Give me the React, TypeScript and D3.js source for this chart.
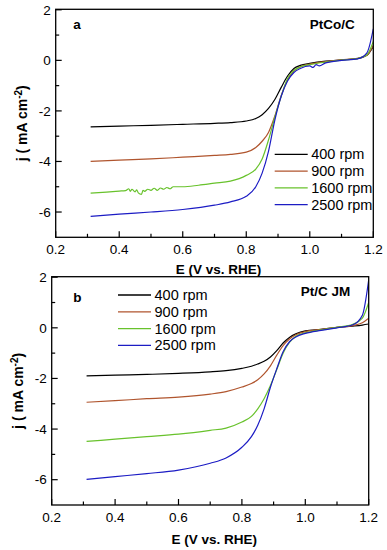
import React, { useRef, useEffect } from 'react';
import * as d3 from 'd3';

// shared potential grid (V vs. RHE)
const eGrid = [0.31, 0.4, 0.5, 0.6, 0.7, 0.75, 0.8, 0.83, 0.85, 0.87, 0.89, 0.91, 0.93, 0.95, 0.97, 1.0, 1.05, 1.1, 1.15, 1.18, 1.2];

// panel a: PtCo/C
const a400 = [-2.63, -2.6, -2.57, -2.53, -2.49, -2.46, -2.4, -2.3, -2.15, -1.9, -1.55, -1.07, -0.62, -0.32, -0.2, -0.12, -0.03, 0.02, 0.07, 0.2, 0.55];
const a900 = [-4.0, -3.95, -3.9, -3.83, -3.76, -3.72, -3.63, -3.45, -3.2, -2.85, -2.2, -1.4, -0.78, -0.42, -0.25, -0.15, -0.05, 0.02, 0.08, 0.2, 0.6];
const a1600E = [0.31, 0.36, 0.4, 0.42, 0.43, 0.435, 0.44, 0.45, 0.455, 0.46, 0.47, 0.475, 0.48, 0.49, 0.5, 0.51, 0.52, 0.53, 0.54, 0.55, 0.56, 0.57, 0.6, 0.65, 0.7, 0.75, 0.8, 0.83, 0.85, 0.87, 0.89, 0.91, 0.93, 0.95, 0.97, 1.0, 1.05, 1.1, 1.15, 1.18, 1.2];
const a1600 = [-5.25, -5.21, -5.17, -5.15, -5.08, -5.18, -5.1, -5.2, -5.12, -5.24, -5.3, -5.14, -5.18, -5.1, -5.14, -5.06, -5.14, -5.05, -5.1, -5.03, -5.08, -5.0, -5.0, -4.94, -4.86, -4.78, -4.55, -4.3, -3.9, -3.15, -2.25, -1.42, -0.72, -0.4, -0.26, -0.17, -0.07, 0.01, 0.07, 0.22, 0.75];
const a2500E = [0.31, 0.4, 0.5, 0.6, 0.7, 0.75, 0.8, 0.83, 0.85, 0.87, 0.89, 0.91, 0.93, 0.95, 0.97, 1.0, 1.01, 1.02, 1.03, 1.05, 1.1, 1.15, 1.18, 1.2];
const a2500 = [-6.17, -6.08, -6.0, -5.9, -5.73, -5.6, -5.38, -5.0, -4.46, -3.6, -2.36, -1.42, -0.82, -0.48, -0.32, -0.22, -0.28, -0.17, -0.22, -0.1, 0.0, 0.06, 0.3, 1.25];

// panel b: Pt/C JM
const b400 = [-1.9, -1.87, -1.84, -1.8, -1.74, -1.69, -1.6, -1.52, -1.43, -1.32, -1.15, -0.9, -0.6, -0.38, -0.24, -0.12, -0.06, 0.02, 0.07, 0.11, 0.15];
const b900 = [-2.94, -2.88, -2.8, -2.74, -2.62, -2.52, -2.34, -2.2, -2.05, -1.82, -1.5, -1.08, -0.7, -0.44, -0.27, -0.15, -0.06, 0.02, 0.09, 0.2, 0.38];
const b1600 = [-4.49, -4.4, -4.3, -4.2, -4.05, -3.96, -3.72, -3.5, -3.2, -2.8, -2.28, -1.65, -1.0, -0.58, -0.33, -0.2, -0.08, 0.02, 0.14, 0.38, 1.0];
const b2500 = [-5.99, -5.88, -5.76, -5.62, -5.35, -5.14, -4.72, -4.3, -3.85, -3.2, -2.35, -1.62, -0.95, -0.55, -0.36, -0.22, -0.1, 0.0, 0.12, 0.5, 1.9];

const rpmLabels = ['400 rpm', '900 rpm', '1600 rpm', '2500 rpm'];
const colors = ['#000000', '#b0552e', '#68c22c', '#1c1cc4'];
const xTicks = [0.2, 0.4, 0.6, 0.8, 1.0, 1.2];
const yTicks = [2, 0, -2, -4, -6];
const xMinor = [0.3, 0.5, 0.7, 0.9, 1.1];
const yMinor = [1, -1, -3, -5];

const FONT = 'Liberation Sans, Arial, sans-serif';

const panels = [
  {
    left: 55.7, right: 373.3, top: 9.3, bottom: 237.3,
    letter: 'a', name: 'PtCo/C', nameX: 354.7, nameY: 29.3, letterY: 29.3,
    series: [
      { e: eGrid, j: a400 },
      { e: eGrid, j: a900 },
      { e: a1600E, j: a1600 },
      { e: a2500E, j: a2500 },
    ],
    legendX: 274.7, legendY: 154.3, tickLabelY: 253.5, titleY: 273.5, yTitleX: 27,
  },
  {
    left: 51.7, right: 368.7, top: 276.7, bottom: 505,
    letter: 'b', name: 'Pt/C JM', nameX: 350.3, nameY: 296, letterY: 301.7,
    series: [
      { e: eGrid, j: b400 },
      { e: eGrid, j: b900 },
      { e: eGrid, j: b1600 },
      { e: eGrid, j: b2500 },
    ],
    legendX: 118, legendY: 295, tickLabelY: 522, titleY: 543.5, yTitleX: 23,
  },
];

const App = () => {
  const svgRef = useRef<SVGSVGElement>(null);

  useEffect(() => {
    const svg = d3.select(svgRef.current);
    svg.selectAll('*').remove();

    panels.forEach((p) => {
      const x = d3.scaleLinear().domain([0.2, 1.2]).range([p.left, p.right]);
      const y = d3.scaleLinear().domain([-7, 2]).range([p.bottom, p.top + 0.5]);
      const g = svg.append('g');

      const clipId = `clip-${p.letter}`;
      g.append('clipPath').attr('id', clipId)
        .append('rect')
        .attr('x', p.left).attr('y', p.top)
        .attr('width', p.right - p.left).attr('height', p.bottom - p.top);

      const line = d3.line<[number, number]>()
        .x((d) => x(d[0]))
        .y((d) => y(d[1]))
        .curve(d3.curveMonotoneX);

      // curves
      p.series.forEach((s, i) => {
        const pts = s.e.map((e, k) => [e, s.j[k]] as [number, number]);
        g.append('path')
          .attr('clip-path', `url(#${clipId})`)
          .attr('d', line(pts))
          .attr('fill', 'none')
          .attr('stroke', colors[i])
          .attr('stroke-width', 1.2);
      });

      // frame
      g.append('rect')
        .attr('x', p.left).attr('y', p.top)
        .attr('width', p.right - p.left).attr('height', p.bottom - p.top)
        .attr('fill', 'none').attr('stroke', '#000').attr('stroke-width', 1.3);

      // x ticks (inward)
      xTicks.forEach((t) => {
        g.append('line').attr('x1', x(t)).attr('x2', x(t))
          .attr('y1', p.bottom).attr('y2', p.bottom - 6)
          .attr('stroke', '#000').attr('stroke-width', 1.2);
        g.append('text').attr('x', x(t)).attr('y', p.tickLabelY)
          .attr('text-anchor', 'middle')
          .style('font-family', FONT).style('font-size', '13.5px')
          .text(d3.format('.1f')(t));
      });
      xMinor.forEach((t) => {
        g.append('line').attr('x1', x(t)).attr('x2', x(t))
          .attr('y1', p.bottom).attr('y2', p.bottom - 3.5)
          .attr('stroke', '#000').attr('stroke-width', 1.2);
      });

      // y ticks (inward)
      yTicks.forEach((t) => {
        g.append('line').attr('x1', p.left).attr('x2', p.left + 6)
          .attr('y1', y(t)).attr('y2', y(t))
          .attr('stroke', '#000').attr('stroke-width', 1.2);
        g.append('text').attr('x', p.left - 5).attr('y', y(t) + 4.8)
          .attr('text-anchor', 'end')
          .style('font-family', FONT).style('font-size', '13.5px')
          .text(t);
      });
      yMinor.forEach((t) => {
        g.append('line').attr('x1', p.left).attr('x2', p.left + 3.5)
          .attr('y1', y(t)).attr('y2', y(t))
          .attr('stroke', '#000').attr('stroke-width', 1.2);
      });

      // axis titles
      g.append('text')
        .attr('x', (p.left + p.right) / 2 + 4).attr('y', p.titleY)
        .attr('text-anchor', 'middle')
        .style('font-family', FONT).style('font-size', '13.5px').style('font-weight', 'bold')
        .text('E (V vs. RHE)');

      const yt = g.append('text')
        .attr('transform', `translate(${p.yTitleX},${(p.top + p.bottom) / 2}) rotate(-90)`)
        .attr('text-anchor', 'middle')
        .style('font-family', FONT).style('font-size', '14px').style('font-weight', 'bold');
      yt.append('tspan').text('j ( mA cm');
      yt.append('tspan').attr('dy', -5.5).style('font-size', '10px').text('-2');
      yt.append('tspan').attr('dy', 5.5).text(')');

      // panel letter and sample name
      g.append('text').attr('x', 73.3).attr('y', p.letterY)
        .style('font-family', FONT).style('font-size', '13.5px').style('font-weight', 'bold')
        .text(p.letter);
      g.append('text').attr('x', p.nameX).attr('y', p.nameY)
        .attr('text-anchor', 'end')
        .style('font-family', FONT).style('font-size', '13.5px').style('font-weight', 'bold')
        .text(p.name);

      // legend
      rpmLabels.forEach((lab, i) => {
        const ly = p.legendY + i * 16.8;
        g.append('line')
          .attr('x1', p.legendX).attr('x2', p.legendX + 33)
          .attr('y1', ly).attr('y2', ly)
          .attr('stroke', colors[i]).attr('stroke-width', 1.3);
        g.append('text')
          .attr('x', p.legendX + 36.5).attr('y', ly + 5)
          .style('font-family', FONT).style('font-size', '14.5px')
          .text(lab);
      });
    });
  }, []);

  return (
    <svg ref={svgRef} width={387} height={550}
      style={{ position: 'absolute', left: 0, top: 0, background: '#fff' }} />
  );
};

export default App;
